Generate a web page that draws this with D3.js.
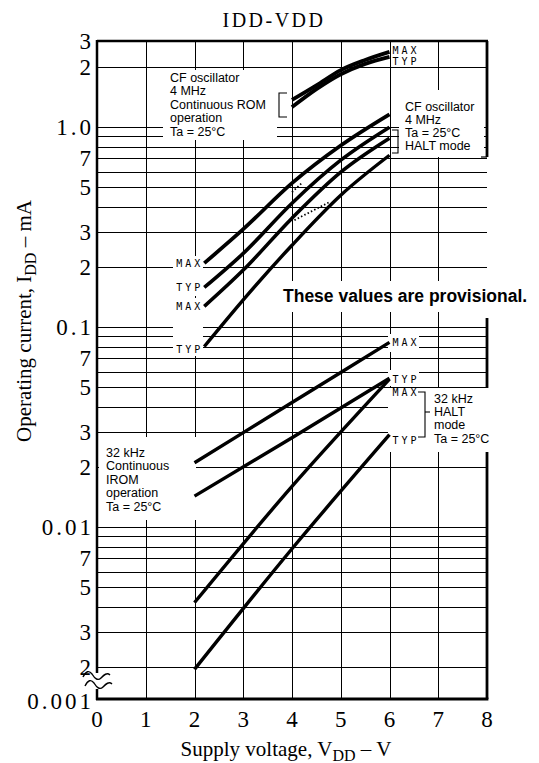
<!DOCTYPE html>
<html><head><meta charset="utf-8">
<script src="https://cdn.jsdelivr.net/npm/d3@7"></script>
<style>
html,body{margin:0;padding:0;background:#fff;}
svg{display:block;}
</style></head><body>
<svg id="chart" width="539" height="763"></svg>
<script>
// ---------------- data ----------------
const chartTitle = "IDD-VDD";
const xTickValues = [0,1,2,3,4,5,6,7,8];
const xGridValues = [1,2,3,4,5,6,7];
const yTickValues = [3,2,1,0.7,0.5,0.3,0.2,0.1,0.07,0.05,0.03,0.02,0.01,0.007,0.005,0.003,0.002,0.001];
const yTickLabels = ["3","2","1.0","7","5","3","2","0.1","7","5","3","2","0.01","7","5","3","2","0.001"];
const yGridValues = [2,1,0.9,0.8,0.7,0.6,0.5,0.4,0.3,0.2,
                     0.1,0.09,0.08,0.07,0.06,0.05,0.04,0.03,0.02,
                     0.01,0.009,0.008,0.007,0.006,0.005,0.004,0.003,0.002];

// CF oscillator 4 MHz, continuous ROM operation
const cfRomVdd = [4, 4.5, 5, 5.5, 6];
const cfRomMax = [1.37, 1.62, 1.93, 2.23, 2.53];
const cfRomTyp = [1.26, 1.55, 1.84, 2.10, 2.34];

// CF oscillator 4 MHz, HALT-region curves
const cfHaltVdd = [2.2, 3, 4, 5, 6];
const cfHaltMaxA = [0.209, 0.309, 0.525, 0.81, 1.16];
const cfHaltTypA = [0.158, 0.234, 0.417, 0.684, 1.0];
const cfHaltMaxB = [0.127, 0.193, 0.351, 0.596, 0.881];
const cfHaltTypB = [0.080, 0.137, 0.257, 0.457, 0.724];

// dotted connectors
const dotAVdd = [4.0, 4.2];
const dotAI = [0.473, 0.525];
const dotBVdd = [4.05, 4.75];
const dotBI = [0.343, 0.42];

// 32 kHz
const khzVdd = [2, 4, 6];
const khzRomMax = [0.021, 0.042, 0.084];
const khzRomTyp = [0.0143, 0.028, 0.0556];
const khzHaltMax = [0.0042, 0.016, 0.055];
const khzHaltTyp = [0.0019, 0.0078, 0.029];

// ---------------- layout ----------------
const svg = d3.select("#chart");
const X0 = 97, X1 = 487, YT = 41, YB = 699;
const x = d3.scaleLinear().domain([0, 8]).range([X0, X1]);
const y = d3.scaleLog().domain([0.001, 0.002, 2, 3]).range([YB, 667, 67, YT]);

const serif = "'Liberation Serif','Times New Roman',serif";
const sans = "'Liberation Sans',Arial,Helvetica,sans-serif";
const mono = "'DejaVu Sans Mono',monospace";

// gridlines
const grid = svg.append("g").attr("stroke", "#000").attr("stroke-width", 1.1).attr("shape-rendering","crispEdges");
grid.selectAll("line.h").data(yGridValues).join("line").attr("class","h")
  .attr("x1", X0).attr("x2", X1).attr("y1", d => Math.round(y(d))+0.5).attr("y2", d => Math.round(y(d))+0.5);
grid.selectAll("line.v").data(xGridValues).join("line").attr("class","v")
  .attr("x1", d => Math.round(x(d))+0.5).attr("x2", d => Math.round(x(d))+0.5).attr("y1", YT).attr("y2", YB);

// top & right frame (right edge interrupted by pasted notes)
svg.append("line").attr("x1", X0).attr("x2", X1+1).attr("y1", YT).attr("y2", YT).attr("stroke","#000").attr("stroke-width",2.5);
const rightSegs = [[YT, 157], [318, 388], [452, YB]];
svg.append("g").selectAll("line").data(rightSegs).join("line")
  .attr("x1", X1).attr("x2", X1).attr("y1", d => d[0]).attr("y2", d => d[1])
  .attr("stroke","#000").attr("stroke-width",2.8);

// white label backgrounds
const boxes = [
  [163, 70, 277, 140],   // CF continuous ROM label
  [399, 90, 484, 157],   // CF HALT label
  [275, 281, 534, 312],  // provisional
  [173, 256, 203, 296],  // MAX/TYP left
  [173, 298, 203, 356],  // MAX/TYP left lower
  [99, 437, 196, 520],   // 32 kHz continuous label
  [388, 334, 419, 352],  // MAX right
  [388, 370, 419, 386],  // TYP right
  [388, 388, 490, 452]   // 32 kHz HALT label
];
svg.append("g").selectAll("rect").data(boxes).join("rect")
  .attr("x", d => d[0]).attr("y", d => d[1]).attr("width", d => d[2]-d[0]).attr("height", d => d[3]-d[1])
  .attr("fill", "#fff");
svg.append("line").attr("x1", 481).attr("x2", X1).attr("y1", 157).attr("y2", 157).attr("stroke","#000").attr("stroke-width",1.2);

// curves
const lineGen = d3.line().x(d => x(d[0])).y(d => y(d[1])).curve(d3.curveMonotoneX);
const zip = (a, b) => a.map((v, i) => [v, b[i]]);
const curves = [
  {pts: zip(cfRomVdd, cfRomMax), w: 3.8},
  {pts: zip(cfRomVdd, cfRomTyp), w: 3.8},
  {pts: zip(cfHaltVdd, cfHaltMaxA), w: 3.8},
  {pts: zip(cfHaltVdd, cfHaltTypA), w: 3.6},
  {pts: zip(cfHaltVdd, cfHaltMaxB), w: 3.6},
  {pts: zip(cfHaltVdd, cfHaltTypB), w: 3.4},
  {pts: zip(khzVdd, khzRomMax), w: 3.4},
  {pts: zip(khzVdd, khzRomTyp), w: 3.4},
  {pts: zip(khzVdd, khzHaltMax), w: 3.4},
  {pts: zip(khzVdd, khzHaltTyp), w: 3.4}
];
svg.append("g").selectAll("path").data(curves).join("path")
  .attr("d", d => lineGen(d.pts)).attr("fill","none").attr("stroke","#000")
  .attr("stroke-width", d => d.w).attr("stroke-linecap","butt");

const dotted = [zip(dotAVdd, dotAI), zip(dotBVdd, dotBI)];
svg.append("g").selectAll("path").data(dotted).join("path")
  .attr("d", d => d3.line().x(p => x(p[0])).y(p => y(p[1]))(d))
  .attr("fill","none").attr("stroke","#000").attr("stroke-width",1.8).attr("stroke-dasharray","1.5,2.2");

// left & bottom axis lines with break
svg.append("line").attr("x1", X0).attr("x2", X0).attr("y1", YT-1).attr("y2", 673).attr("stroke","#000").attr("stroke-width",2.5);
svg.append("line").attr("x1", X0).attr("x2", X0).attr("y1", 689).attr("y2", YB+1).attr("stroke","#000").attr("stroke-width",2.5);
svg.append("line").attr("x1", X0-1).attr("x2", X1+1.4).attr("y1", YB).attr("y2", YB).attr("stroke","#000").attr("stroke-width",2.8);
const brk = svg.append("g").attr("fill","none").attr("stroke","#000").attr("stroke-width",1.4);
brk.append("path").attr("d","M83,677 C86,671 89,670 92,674 C95,679 98,681 101,678 C104,675 107,672 110,675");
brk.append("path").attr("d","M85,686 C88,680 91,679 94,683 C97,688 100,690 103,687 C106,684 109,681 112,684");

// tick labels
const tickFont = 23;
const ySpacing = 3;
svg.append("g").selectAll("text").data(yTickValues).join("text")
  .attr("x", 91 + ySpacing).attr("y", d => y(d) + (d === 0.001 ? 2 : 0)).attr("dy", "0.35em")
  .attr("text-anchor", "end").attr("font-family", serif).attr("font-size", tickFont)
  .attr("letter-spacing", ySpacing)
  .text((d, i) => yTickLabels[i]);
svg.append("g").selectAll("text").data(xTickValues).join("text")
  .attr("x", d => x(d)).attr("y", 727)
  .attr("text-anchor", "middle").attr("font-family", serif).attr("font-size", tickFont)
  .text(d => d);

// title
svg.append("text").attr("x", 274).attr("y", 27).attr("text-anchor","middle")
  .attr("font-family", serif).attr("font-size", 20).attr("letter-spacing", 2.5).text(chartTitle);

// axis titles
const xt = svg.append("text").attr("x", 286).attr("y", 756).attr("text-anchor","middle")
  .attr("font-family", serif).attr("font-size", 21);
xt.append("tspan").text("Supply voltage, V");
xt.append("tspan").attr("font-size", 16).attr("dy", 5).text("DD");
xt.append("tspan").attr("dy", -5).text(" \u2013 V");

const yt = svg.append("text").attr("transform","translate(31,321) rotate(-90)").attr("text-anchor","middle")
  .attr("font-family", serif).attr("font-size", 21);
yt.append("tspan").text("Operating current, I");
yt.append("tspan").attr("font-size", 16).attr("dy", 5).text("DD");
yt.append("tspan").attr("dy", -5).text(" \u2013 mA");

// annotation text blocks
function block(lines, x0, y0, lh) {
  const t = svg.append("text").attr("font-family", sans).attr("font-size", 12.5).attr("fill","#000");
  lines.forEach((s, i) => t.append("tspan").attr("x", x0).attr("y", y0 + i*lh).text(s));
}
block(["CF oscillator","4 MHz","Continuous ROM","operation","Ta = 25\u00B0C"], 170, 82, 13.4);
block(["CF oscillator","4 MHz","Ta = 25\u00B0C","HALT mode"], 405, 111, 12.9);
block(["32 kHz","Continuous","IROM","operation","Ta = 25\u00B0C"], 106, 457, 13.4);
block(["32 kHz","HALT","mode","Ta = 25\u00B0C"], 434, 403, 13.2);

svg.append("text").attr("x", 283).attr("y", 302).attr("font-family", sans).attr("font-weight","bold")
  .attr("font-size", 17.5).text("These values are provisional.");

// brackets
const br = svg.append("g").attr("fill","none").attr("stroke","#000").attr("stroke-width",1.1);
br.append("path").attr("d","M287,93 L279,93 L279,117 L287,117");
br.append("path").attr("d","M392,130 L398,130 L398,153 L392,153");
br.append("path").attr("d","M418,392 L425,392 L425,437 L418,437");
br.append("line").attr("x1",425).attr("x2",430).attr("y1",412).attr("y2",412);

// MAX / TYP tags
function tag(s, xx, yy, anchor) {
  svg.append("text").attr("x", xx).attr("y", yy).attr("dy","0.35em").attr("text-anchor", anchor || "start")
    .attr("font-family", mono).attr("font-size", 10).attr("letter-spacing", 3).text(s);
}
const last = a => a[a.length-1];
tag("MAX", x(6)+3, y(last(cfRomMax)) - 1);
tag("TYP", x(6)+3, y(last(cfRomTyp)) + 5);
tag("MAX", x(2.2)-1, y(cfHaltMaxA[0]), "end");
tag("TYP", x(2.2)-1, y(cfHaltTypA[0]), "end");
tag("MAX", x(2.2)-1, y(cfHaltMaxB[0]), "end");
tag("TYP", x(2.2)-1, y(cfHaltTypB[0]) + 3, "end");
tag("MAX", x(6)+3, y(last(khzRomMax)));
tag("TYP", x(6)+3, y(last(khzRomTyp)) + 1);
tag("MAX", x(6)+3, y(last(khzHaltMax)) + 13);
tag("TYP", x(6)+3, y(last(khzHaltTyp)) + 6);
</script>
</body></html>
